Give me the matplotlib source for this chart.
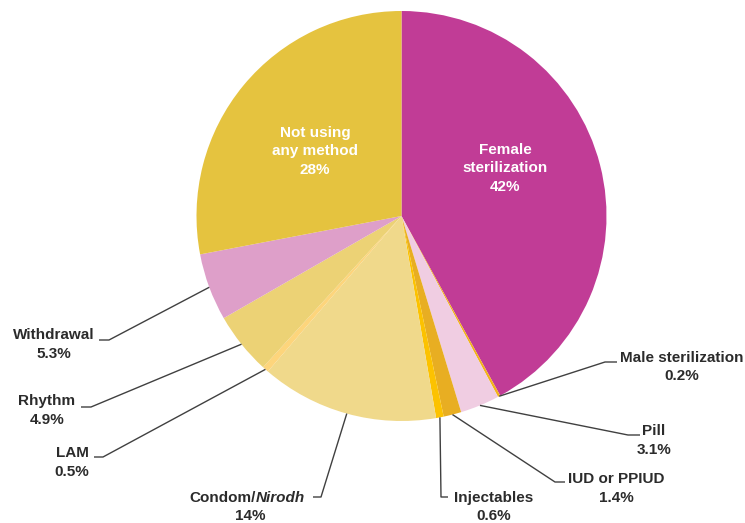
import numpy as np
import matplotlib.pyplot as plt

# contraceptive use shares, clockwise from 12 o'clock
methods = ["Female\nsterilization", "Male sterilization", "Pill", "IUD or PPIUD",
           "Injectables", "Condom/Nirodh", "LAM", "Rhythm", "Withdrawal",
           "Not using\nany method"]
shares = [42, 0.2, 3.1, 1.4, 0.6, 14, 0.5, 4.9, 5.3, 28]
share_labels = ["42%", "0.2%", "3.1%", "1.4%", "0.6%", "14%", "0.5%", "4.9%", "5.3%", "28%"]
colors = ["#C13C96", "#F2B31A", "#F0CDE2", "#E8AE22", "#FCC200",
          "#F0D98B", "#FDD57C", "#ECD275", "#DE9FC9", "#E5C33F"]

plt.rcParams['font.family'] = ['Liberation Sans', 'DejaVu Sans']
text_col = "#2b2b2b"
fs = 11
step = 18.5

fig = plt.figure(figsize=(7.45, 5.23), dpi=100)
ax = fig.add_axes([0, 0, 1, 1])

# y grows downward (pixel-like coordinates), so counterclock=True draws clockwise
cx, cy, r = 401.5, 216, 205
wedges, _ = ax.pie(shares, colors=colors, startangle=-90, counterclock=True,
                   center=(cx, cy), radius=r, wedgeprops=dict(linewidth=0))
ax.set_xlim(0, 745)
ax.set_ylim(523, 0)
ax.set_aspect('equal')
ax.axis('off')


def put_lines(x, y, lines, color):
    for k, line in enumerate(lines):
        if "/" in line:
            # "Nirodh" is set in italics
            a, b = line.split("/")
            ax.text(x + 6, y + k * step, a + "/", ha='right', va='center',
                    color=color, fontsize=fs, fontweight='bold')
            ax.text(x + 6, y + k * step, b, ha='left', va='center', color=color,
                    fontsize=fs, fontweight='bold', style='italic')
        else:
            ax.text(x, y + k * step, line, ha='center', va='center',
                    color=color, fontsize=fs, fontweight='bold')


# labels inside the two large slices (x, y of first line)
inside = {0: (505, 150), 9: (315, 133)}
for i, (x, y) in inside.items():
    put_lines(x, y, methods[i].split("\n") + [share_labels[i]], 'white')

# outside labels: first-line centre, elbow of the leader, end of the horizontal tail
outside = {
    1: ((682, 358), (605, 362), (617, 362)),
    2: ((654, 431), (628, 435), (640, 435)),
    3: ((616, 479), (555, 482), (565, 482)),
    4: ((494, 498), (441, 497), (448, 497)),
    5: ((250, 498), (321, 497), (313, 497)),
    6: ((72, 453), (103, 457), (94, 457)),
    7: ((47, 401), (91, 407), (81, 407)),
    8: ((54, 335), (109, 340), (99, 340)),
}
for i, (txt, elbow, tail) in outside.items():
    w = wedges[i]
    ang = np.deg2rad((w.theta1 + w.theta2) / 2)
    sx, sy = cx + r * np.cos(ang), cy + r * np.sin(ang)
    ax.plot([sx, elbow[0], tail[0]], [sy, elbow[1], tail[1]], color="#404040",
            lw=1.0, solid_capstyle='butt')
    put_lines(txt[0], txt[1], [methods[i], share_labels[i]], text_col)

fig.savefig("out.png", dpi=100)
